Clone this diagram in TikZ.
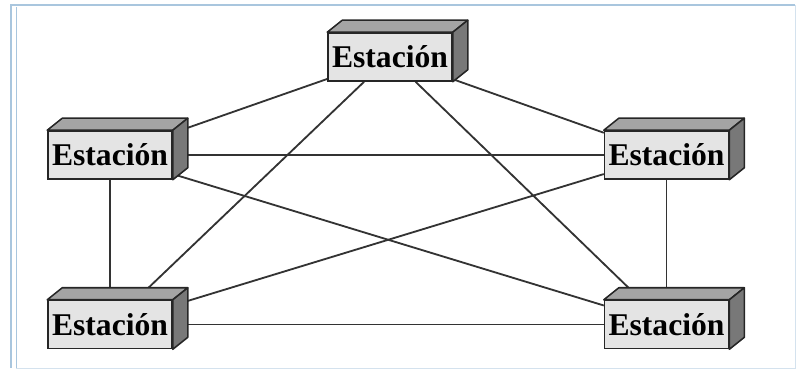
\documentclass[tikz,border=0pt]{standalone}
\usepackage{fontspec}
\setmainfont{Liberation Serif}
\usepackage{tikz}
\usetikzlibrary{positioning,calc,backgrounds}
\definecolor{frontgrey}{HTML}{E4E4E4}
\definecolor{topgrey}{HTML}{A4A4A4}
\definecolor{sidegrey}{HTML}{787878}
\definecolor{framblue}{HTML}{A9C6DE}
\tikzset{
  estacion/.style={rectangle, draw=black!85, fill=frontgrey, line width=1.1pt,
                   minimum width=3.1cm, minimum height=1.2cm, inner sep=0pt,
                   font=\bfseries\fontsize{22.5}{22.5}\selectfont},
  enlace/.style={draw=black!80, line width=1.3pt},
  cara/.style={draw=black!85, line width=1.1pt, line join=round},
}

\begin{document}
\begin{tikzpicture}
  \useasboundingbox (0,0) rectangle (19.95,9.275);
  % window frame
  \draw[framblue, line width=0.8pt] (0.275,0.075) -- (0.275,9.15) -- (19.875,9.15);
  \draw[framblue, line width=0.6pt] (0.4,0.075) -- (0.4,9.1);
  \draw[framblue!50, line width=0.5pt] (0.4,0.075) -- (19.875,0.075) -- (19.875,9.15);

  \node[estacion] (sl) at (2.75,5.4) {Estación};
  \node[estacion, right=10.775cm of sl] (sr) {Estación};
  \node[estacion, below=3cm of sl] (bl) {Estación};
  \node[estacion, below=3cm of sr] (br) {Estación};
  \node[estacion] (st) at (9.75,7.85) {Estación};

  % full mesh between the five stations
  \begin{scope}[on background layer]
    \foreach \a/\b in {st/sl, st/sr, st/bl, st/br, sl/sr, sl/bl, sl/br,
                       sr/bl, sr/br, bl/br}
      \draw[enlace] (\a) -- (\b);
  \end{scope}

  % top and side faces of each box
  \foreach \n in {st,sl,sr,bl,br} {
    \filldraw[cara, fill=topgrey] (\n.north west) -- ++(0.375,0.3)
      -- ($(\n.north east)+(0.375,0.3)$) -- (\n.north east) -- cycle;
    \filldraw[cara, fill=sidegrey] (\n.north east) -- ++(0.375,0.3)
      -- ($(\n.south east)+(0.375,0.3)$) -- (\n.south east) -- cycle;
  }
\end{tikzpicture}
\end{document}
